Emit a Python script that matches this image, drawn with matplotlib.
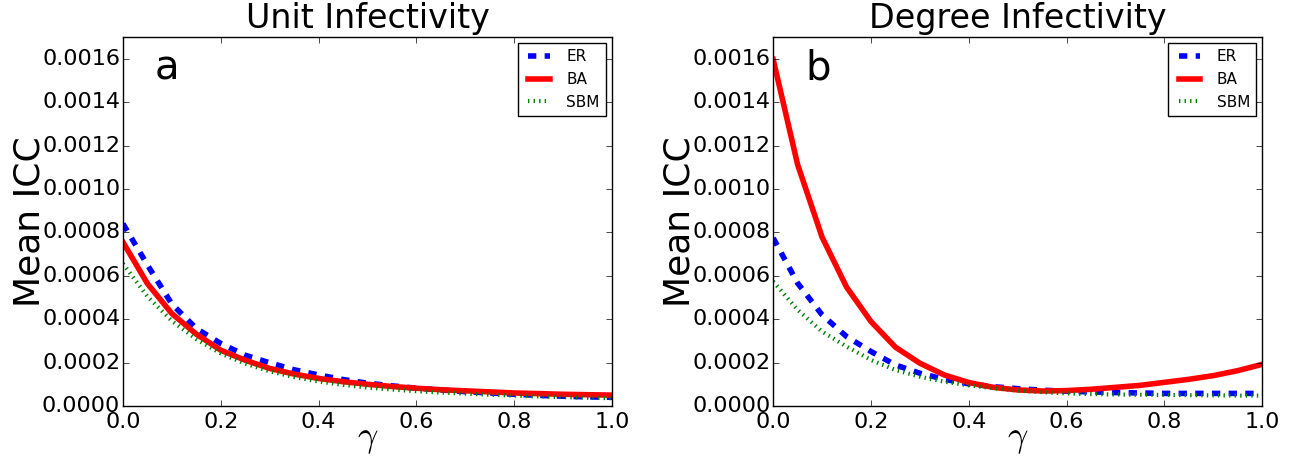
import numpy as np
import matplotlib
matplotlib.use("Agg")
import matplotlib.pyplot as plt

plt.style.use('classic')

gamma = [0.0, 0.05, 0.1, 0.15, 0.2, 0.25, 0.3, 0.35, 0.4, 0.45, 0.5,
         0.55, 0.6, 0.65, 0.7, 0.75, 0.8, 0.85, 0.9, 0.95, 1.0]

# panel a: unit infectivity
unit_er = [0.00084, 0.00065, 0.00047, 0.000357, 0.000288, 0.000234, 0.000199, 0.000167,
           0.000143, 0.000122, 0.000105, 0.000093, 0.000082, 0.000074, 0.000066, 0.00006,
           0.000054, 0.000049, 0.000045, 0.000042, 0.00004]
unit_ba = [0.000755, 0.000564, 0.000426, 0.000331, 0.000257, 0.000211, 0.000173, 0.000147,
           0.000127, 0.000112, 0.0001, 0.00009, 0.000082, 0.000075, 0.00007, 0.000065,
           0.00006, 0.000057, 0.000054, 0.000052, 0.00005]
unit_sbm = [0.000656, 0.000505, 0.000392, 0.000308, 0.000242, 0.000195, 0.00016, 0.000133,
            0.000113, 0.000097, 0.000085, 0.000076, 0.000068, 0.000062, 0.000057, 0.000052,
            0.000048, 0.000044, 0.000041, 0.000038, 0.000036]

# panel b: degree infectivity
deg_er = [0.000774, 0.000566, 0.00042, 0.00032, 0.000251, 0.000189, 0.000151, 0.000123,
          0.000102, 0.000089, 0.00008, 0.000073, 0.000068, 0.000065, 0.000062, 0.00006,
          0.000058, 0.000058, 0.000058, 0.000058, 0.000058]
deg_ba = [0.001597, 0.001112, 0.000778, 0.000548, 0.000389, 0.000271, 0.000197, 0.000143,
          0.000108, 0.000086, 0.000074, 0.000069, 0.000071, 0.000077, 0.000086, 0.000095,
          0.000109, 0.000123, 0.00014, 0.000163, 0.000192]
deg_sbm = [0.000574, 0.000443, 0.000343, 0.000274, 0.000212, 0.000166, 0.000135, 0.000112,
           0.000095, 0.000082, 0.000071, 0.000064, 0.000058, 0.000055, 0.000053, 0.000052,
           0.000051, 0.00005, 0.000049, 0.000048, 0.000048]

titles = ["Unit Infectivity", "Degree Infectivity"]
letters = ["a", "b"]
yticks = [0.0, 0.0002, 0.0004, 0.0006, 0.0008, 0.0010, 0.0012, 0.0014, 0.0016]

fig = plt.figure(figsize=(12.94, 4.57), dpi=100, facecolor='white')
ax1 = fig.add_axes([0.095, 0.1116, 0.378, 0.8074])
ax2 = fig.add_axes([0.5975, 0.1116, 0.378, 0.8074])

for ax, er, ba, sbm, title, letter in [(ax1, unit_er, unit_ba, unit_sbm, titles[0], letters[0]),
                                       (ax2, deg_er, deg_ba, deg_sbm, titles[1], letters[1])]:
    ax.plot(gamma, er, 'b--', lw=4, label="ER")
    ax.plot(gamma, ba, 'r-', lw=4, label="BA")
    ax.plot(gamma, sbm, 'g:', lw=3, label="SBM")
    ax.set_xlim(0, 1)
    ax.set_ylim(0, 0.0017)
    ax.set_yticks(yticks)
    ax.set_yticklabels(["%.4f" % v for v in yticks])
    ax.tick_params(labelsize=16)
    ax.tick_params(axis='y', pad=2)
    ax.set_title(title, fontsize=24, y=1.005)
    ax.set_xlabel(r"$\gamma$", fontsize=26, labelpad=-7)
    ax.set_ylabel("Mean ICC", fontsize=26, labelpad=-3)
    ax.text(0.065, 0.97, letter, transform=ax.transAxes, fontsize=29, va='top')
    ax.legend(loc="upper right", prop={'size': 11}, borderaxespad=0.4)

plt.savefig("out.png", dpi=100, facecolor='white')
